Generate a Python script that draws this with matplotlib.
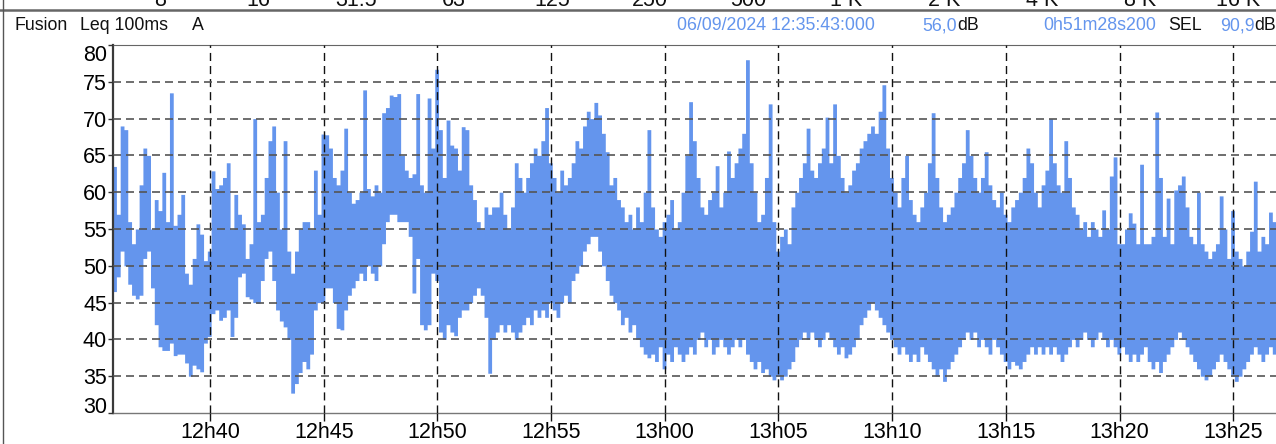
import matplotlib
matplotlib.use('Agg')
import matplotlib.pyplot as plt
import matplotlib.dates as mdates
from matplotlib.lines import Line2D
from datetime import datetime, timedelta

plt.rcParams['font.family'] = ['Liberation Sans', 'DejaVu Sans']

# Leq 100ms A, max / min per 10 s bin, start 06/09/2024 12:35:43
t0 = datetime(2024, 9, 6, 12, 35, 43)
duree_s = 3088.2  # 0h51m28s200
pas_s = 10

level_max = [
    63.5, 57, 69, 68.5, 56, 53, 55, 61, 66, 65,
    55, 59, 57.5, 62.7, 56, 73.5, 55.5, 57, 59.7, 49,
    47.5, 51, 55.7, 54.3, 50.7, 52, 62.9, 60.5, 61, 62,
    64, 55, 59.7, 57, 55.7, 51, 53, 70, 56, 57,
    62, 67, 69, 60, 55, 67, 52, 49, 52, 55,
    56, 56, 55, 63, 57, 67.9, 67.8, 66, 62, 61,
    63, 68.7, 60, 58.5, 59, 60, 73.9, 60.5, 59.5, 61,
    60, 70.8, 71.5, 73.2, 73, 73.4, 65, 63, 62, 62.5,
    73.4, 61, 60, 72.8, 66, 76.7, 68.5, 62, 69.8, 66.4,
    66, 63, 68.9, 68.5, 61, 59, 56, 55, 58, 57,
    58, 58, 60, 57, 55, 58, 64, 62, 60, 62,
    64, 66, 65, 67, 71.5, 64, 62, 60, 63, 61,
    62, 64, 67, 66, 69, 71, 70, 72.2, 70.5, 68,
    65.5, 61, 62, 59, 58, 56, 57, 55, 58, 56,
    60, 68.5, 58, 55, 54, 56, 57, 59, 55, 56,
    60, 65, 72.3, 67, 62, 58, 57, 59, 60, 63.6,
    58, 60, 65.6, 62, 64, 66, 68, 78, 64, 60,
    56, 57, 62, 72, 56, 52, 54, 55, 53, 58,
    60, 62, 64, 68.7, 63, 62, 64, 66, 70.2, 64,
    72, 65, 62, 60, 61, 63, 64, 66, 67, 68,
    69, 68, 71, 74.6, 66, 62, 60, 58, 62, 65,
    59, 57, 56, 58, 60, 64, 70.8, 62, 58, 56,
    57, 58, 60, 62, 64, 68.5, 65, 62, 60, 62,
    65.5, 61, 59, 58, 60, 57, 56, 58, 59, 60,
    62, 66, 64, 60, 58, 61, 63, 70, 64, 61,
    60, 67, 62, 58, 57, 55, 56, 54, 56, 55,
    54, 57.6, 55, 62.2, 64.8, 53, 53, 55, 57.2, 55.8,
    53, 63.8, 53, 53, 54, 70.9, 62, 54, 59.2, 53,
    60.3, 61, 62.2, 58, 54, 53, 60, 53, 52, 51,
    52, 53, 59.5, 55, 51, 57.5, 52, 51, 50, 52,
    54.7, 61.5, 52, 54, 53, 57.3, 56, 54, 52,
]
level_min = [
    46.5, 48.5, 52, 50, 47.5, 46, 45.5, 46, 51, 52,
    47, 42, 39, 38.5, 38.5, 39.5, 37.8, 38, 38, 36.8,
    35, 36.5, 36, 35.6, 39.5, 40.4, 43.5, 44, 42.6, 43,
    44, 40.4, 43, 48.5, 49, 45.8, 45.5, 45, 44.9, 48,
    51, 52, 48, 44, 42.5, 41.7, 40, 32.7, 34, 35.5,
    37, 36, 38, 44, 45, 45, 47, 47, 45, 41.5,
    41.3, 44, 46, 47, 48, 49, 48, 50, 49, 48,
    50, 53, 56, 57, 57, 56, 56, 56, 54, 46.3,
    51, 42, 41.3, 42, 49, 48, 41, 40, 42, 41,
    40.5, 43, 44, 44, 45, 46, 47, 46, 43, 35.4,
    40, 41, 42, 41, 42, 41, 40, 41, 42, 43,
    42, 44, 43, 44, 43, 45, 44, 43, 45, 46,
    45, 48, 49, 50, 52, 53, 54, 54, 52, 50,
    48, 46, 45, 44, 42, 43, 41, 42, 40, 39,
    38, 37.5, 38, 37, 39, 36, 38, 37, 39, 38,
    37, 38, 39, 38, 40, 41, 39, 40, 38, 39,
    40, 39, 38, 39, 40, 39, 40, 38, 37, 36,
    37, 35.5, 36, 35, 34.5, 35, 34.5, 35, 36, 37,
    39, 40, 41, 40, 41, 40, 39, 40, 41, 40,
    39, 38, 39, 37.5, 38, 39, 40, 42, 43, 44,
    45, 44, 43, 42, 41, 40, 39, 38, 39, 38,
    37, 38, 37, 39, 38, 37, 36, 35, 36, 34.3,
    36, 37, 38, 39, 40, 41, 40, 41, 39, 40,
    39, 38, 40, 39, 38, 37, 36, 37, 36.5, 36,
    37, 38, 39, 38, 39, 38, 39, 38, 39, 38,
    37, 38, 39, 40, 39, 40, 41, 40, 39, 40,
    41, 40, 39, 40, 39, 38, 39, 38, 37, 38,
    37, 38, 39, 37, 36, 37, 35.5, 37, 38, 39,
    40, 41, 40, 39, 38, 37, 36, 35, 34.5, 35,
    36, 37, 38, 37, 36, 35, 34.3, 35, 36, 37,
    38, 39, 38, 37, 38, 39, 38, 40, 41,
]

bandes = ['8', '16', '31.5', '63', '125', '250', '500',
          '1 K', '2 K', '4 K', '8 K', '16 K']
y_ticks = [30, 35, 40, 45, 50, 55, 60, 65, 70, 75, 80]

W, H = 1276, 444
bleu = '#6495ED'

# one column per 10 s bin, drawn from min to max (like the 100 ms trace)
t_bins = [t0 + timedelta(seconds=pas_s * k) for k in range(len(level_max))]
t_bins.append(t0 + timedelta(seconds=pas_s * len(level_max)))
hi = level_max + [level_max[-1]]
lo = level_min + [level_min[-1]]

fig = plt.figure(figsize=(W / 100, H / 100), dpi=100)
ax = fig.add_axes([112.6 / W, 31 / H, 1170.4 / W, 368 / H])

ax.fill_between(t_bins, lo, hi, step='post', color=bleu, lw=0)

ax.set_xlim(t0, t0 + timedelta(seconds=duree_s))
ax.set_ylim(30, 80)
ax.set_yticks(y_ticks)
ax.xaxis.set_major_locator(mdates.MinuteLocator(byminute=range(0, 60, 5)))
ax.xaxis.set_major_formatter(mdates.DateFormatter('%Hh%M'))

ax.set_axisbelow(False)
ax.grid(axis='y', color='#555555', lw=1.2, ls=(0, (4.8, 3.0)))
ax.grid(axis='x', color='#111111', lw=1.0, ls=(0, (5.8, 3.6)))
gl = ax.yaxis.get_gridlines()
gl[0].set_visible(False)
gl[-1].set_visible(False)

ax.tick_params(axis='y', length=3.6, width=1, color='#333333', pad=0.5,
               labelsize=15.5)
ax.tick_params(axis='x', length=5.8, width=1, color='#111111', pad=1.0,
               labelsize=15.5)
yt = ax.yaxis.get_major_ticks()
yt[0].label1.set_verticalalignment('baseline')
yt[-1].label1.set_verticalalignment('top')

ax.spines['left'].set_linewidth(1.6)
ax.spines['left'].set_color('#3a3a3a')
ax.spines['top'].set_linewidth(0.8)
ax.spines['top'].set_color('#666666')
ax.spines['bottom'].set_linewidth(1.0)
ax.spines['bottom'].set_color('#777777')
ax.spines['right'].set_visible(False)

# bandeau du haut (panneau precedent coupe)
for i, lab in enumerate(bandes):
    fig.text((160 + 98 * i) / W, 1 - 6 / H, lab, ha='center', va='baseline',
             fontsize=15.5, color='#111111')
fig.add_artist(Line2D([0, 1], [1 - 10.5 / H] * 2, color='#666666', lw=1.8))
fig.add_artist(Line2D([3 / W] * 2, [0, 1], color='#555555', lw=1.0))

# en-tete
yh = 1 - 26 / H
fs = 12.8
fig.text(14 / W, yh, 'Fusion', fontsize=fs, va='center', color='#111111')
fig.text(80 / W, yh, 'Leq 100ms', fontsize=fs, va='center', color='#111111')
fig.text(192 / W, yh, 'A', fontsize=fs, va='center', color='#111111')
fig.text(677 / W, yh, '06/09/2024 12:35:43:000', fontsize=fs, va='center', color=bleu)
fig.text(922 / W, yh, '56,0', fontsize=fs, va='center', color=bleu)
fig.text(957 / W, yh, 'dB', fontsize=fs, va='center', color='#111111')
fig.text(1043 / W, yh, '0h51m28s200', fontsize=fs, va='center', color=bleu)
fig.text(1168 / W, yh, 'SEL', fontsize=fs, va='center', color='#111111')
fig.text(1220 / W, yh, '90,9', fontsize=fs, va='center', color=bleu)
fig.text(1254 / W, yh, 'dB', fontsize=fs, va='center', color='#111111')

fig.savefig('out.png', dpi=100)
